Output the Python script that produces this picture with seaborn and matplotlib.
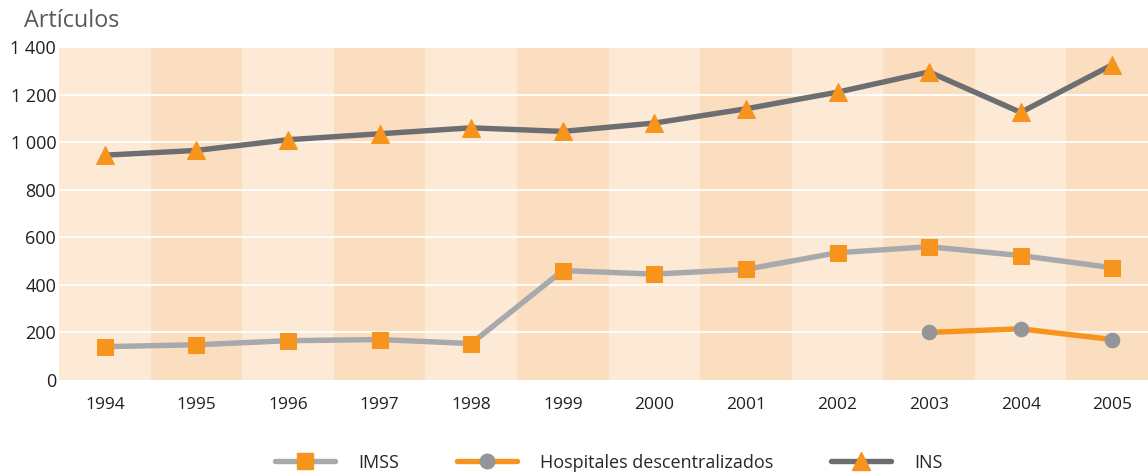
import matplotlib
matplotlib.use("Agg")
import matplotlib.pyplot as plt
from matplotlib.lines import Line2D
import seaborn as sns
import pandas as pd

years = ["1994", "1995", "1996", "1997", "1998", "1999", "2000", "2001", "2002", "2003", "2004", "2005"]
imss = [140, 148, 165, 170, 153, 460, 445, 465, 535, 560, 523, 472]
hospitales_years = ["2003", "2004", "2005"]
hospitales = [200, 215, 170]
ins = [945, 965, 1010, 1035, 1060, 1045, 1080, 1140, 1210, 1295, 1125, 1325]
yticks = [0, 200, 400, 600, 800, 1000, 1200, 1400]
ytick_labels = ["0", "200", "400", "600", "800", "1 000", "1 200", "1 400"]

sns.set_theme(style="white")
plt.rcParams["font.family"] = ["Open Sans", "DejaVu Sans"]

ORANGE = "#F7941D"
LIGHT_GRAY = "#A7A9AC"
DARK_GRAY = "#6D6E71"
CIRCLE_GRAY = "#939598"
BAND1 = "#FCE9D6"
BAND2 = "#FBDDBF"

fig = plt.figure(figsize=(11.48, 4.72), dpi=100)
ax = fig.add_axes([0.0514, 0.195, 0.9486, 0.7055])

xpos = {y: i for i, y in enumerate(years)}
for i in range(len(years)):
    ax.axvspan(i - 0.5, i + 0.5, color=BAND1 if i % 2 == 0 else BAND2, lw=0, zorder=0)

for t in yticks[1:]:
    ax.axhline(t, color="white", lw=1.3, zorder=1)

df_imss = pd.DataFrame({"x": [xpos[y] for y in years], "v": imss})
df_hosp = pd.DataFrame({"x": [xpos[y] for y in hospitales_years], "v": hospitales})
df_ins = pd.DataFrame({"x": [xpos[y] for y in years], "v": ins})

LW = 3.9
sns.lineplot(data=df_imss, x="x", y="v", ax=ax, color=LIGHT_GRAY, lw=LW,
             marker="s", markersize=12, markerfacecolor=ORANGE, markeredgecolor=ORANGE, zorder=3)
sns.lineplot(data=df_hosp, x="x", y="v", ax=ax, color=ORANGE, lw=LW,
             marker="o", markersize=10.5, markerfacecolor=CIRCLE_GRAY, markeredgecolor=CIRCLE_GRAY, zorder=3)
sns.lineplot(data=df_ins, x="x", y="v", ax=ax, color=DARK_GRAY, lw=LW,
             marker="^", markersize=12.5, markerfacecolor=ORANGE, markeredgecolor=ORANGE, zorder=3)

ax.set_xlim(-0.5, 11.39)
ax.set_ylim(0, 1400)
ax.set_xticks(range(len(years)))
ax.set_xticklabels(years, fontsize=12.5, color="#231F20")
ax.set_yticks(yticks)
ax.set_yticklabels(ytick_labels, fontsize=13, color="#231F20")
ax.tick_params(axis="x", length=0, pad=12)
ax.tick_params(axis="y", length=0, pad=2)
ax.set_xlabel("")
ax.set_ylabel("")
for s in ax.spines.values():
    s.set_visible(False)
ax.grid(False)

fig.text(0.021, 0.955, "Artículos", fontsize=16.8, color="#58595B", va="center", ha="left")

handles = [
    Line2D([0], [0], color=LIGHT_GRAY, lw=LW, marker="s", markersize=12,
           markerfacecolor=ORANGE, markeredgecolor=ORANGE),
    Line2D([0], [0], color=ORANGE, lw=LW, marker="o", markersize=10.5,
           markerfacecolor=CIRCLE_GRAY, markeredgecolor=CIRCLE_GRAY),
    Line2D([0], [0], color=DARK_GRAY, lw=LW, marker="^", markersize=12.5,
           markerfacecolor=ORANGE, markeredgecolor=ORANGE),
]
fig.legend(handles, ["IMSS", "Hospitales descentralizados", "INS"], loc="center",
           bbox_to_anchor=(0.5305, 0.02), ncol=3, frameon=False, fontsize=13,
           handlelength=3.3, handletextpad=1.3, columnspacing=3.2)

fig.savefig("out.png", dpi=100)
